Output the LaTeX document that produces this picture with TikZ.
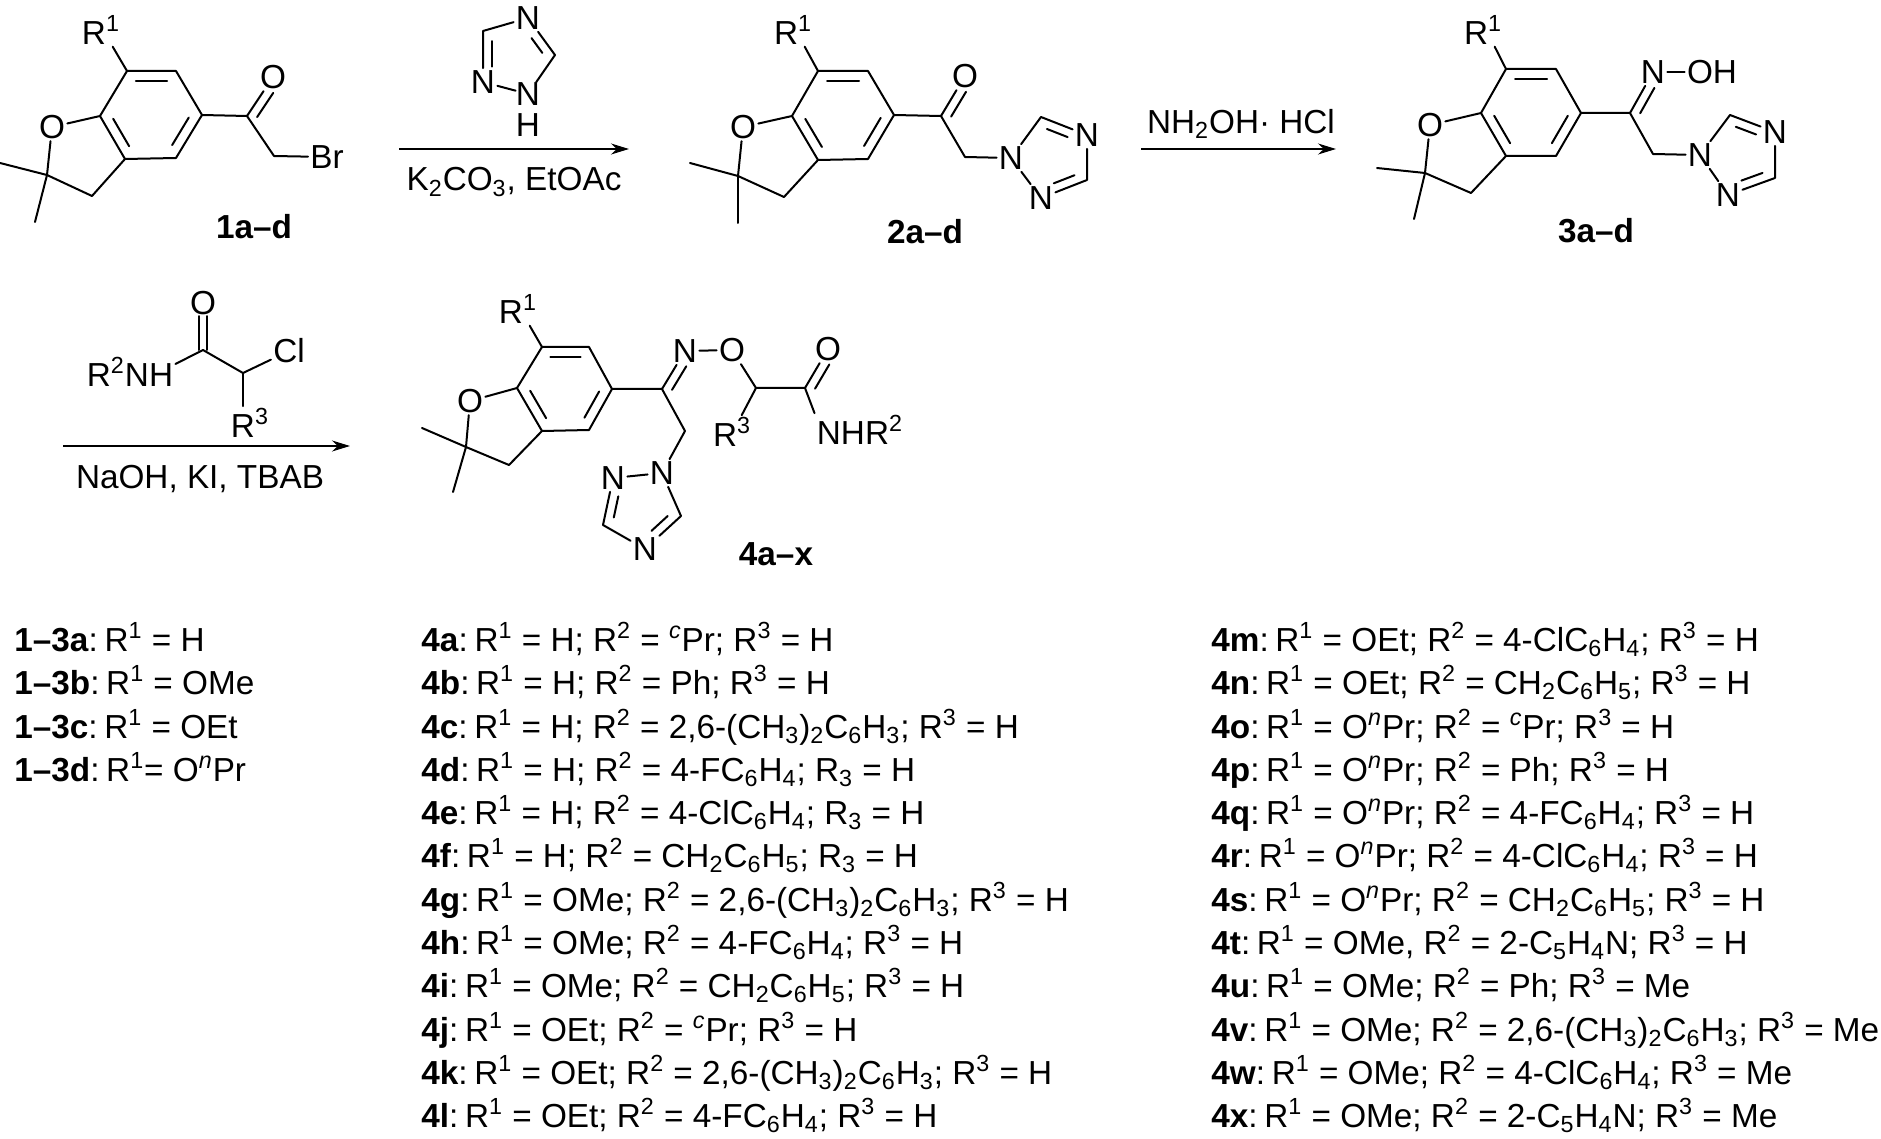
\documentclass[tikz,border=0pt]{standalone}
\usepackage{fontspec}
\setmainfont{Liberation Sans}
\usetikzlibrary{arrows.meta,calc}
\newcommand{\supr}[1]{\textsuperscript{#1}}
\newcommand{\subs}[1]{\textsubscript{#1}}
\newcommand{\lab}[1]{\textbf{#1}:\hspace{0.2em}}
\newcommand{\inbond}[5]{\draw[bond] ($(#1)!#4!(#2)!#3!90:(#2)$) -- ($(#2)!#5!(#1)!#3!-90:(#1)$);}
\begin{document}
\begin{tikzpicture}[
  x=0.5pt, y=-0.5pt,
  font=\fontsize{16.65}{19}\selectfont,
  bond/.style={line width=1pt, line cap=round, line join=round},
  atom/.style={inner sep=1pt},
  reaction/.style={-{Stealth[length=9pt,width=5.5pt]}, line width=0.7pt},
  compound/.style={font=\fontsize{16.65}{19}\selectfont\bfseries},
  item/.style={anchor=base west, inner sep=0pt}
]
\useasboundingbox (0,0) rectangle (1881,1139);

\coordinate (a1) at (127,71);
\coordinate (b1) at (176,71);
\coordinate (c1) at (202,115);
\coordinate (d1) at (176,158);
\coordinate (e1) at (125,159);
\coordinate (f1) at (100,116);
\coordinate (g1) at (47,175);
\coordinate (h1) at (92,196);
\coordinate (m1) at (0,163);
\coordinate (n1) at (35,222);
\coordinate (co1) at (247,116);
\coordinate (ch1) at (274,156);
\node[atom] (r1) at (101,30) {R\supr{1}};
\node[atom] (o1) at (52,127) {O};
\node[atom] (oo1) at (273,77) {O};
\node[atom] (br1) at (327,157) {Br};
\draw[bond] (a1) -- (r1.-55);
\draw[bond] (a1) -- (b1) -- (c1) -- (d1) -- (e1) -- (f1) -- (a1);
\draw[bond] (f1) -- (o1);
\draw[bond] (o1) -- (g1);
\draw[bond] (g1) -- (h1) -- (e1);
\draw[bond] (g1) -- (m1);
\draw[bond] (g1) -- (n1);
\draw[bond] (c1) -- (co1) -- (ch1) -- (br1);
\draw[bond] (co1) -- (oo1);
\inbond{a1}{b1}{-5pt}{.18}{.18}
\inbond{c1}{d1}{-5pt}{.18}{.18}
\inbond{e1}{f1}{-5pt}{.18}{.18}
\inbond{co1}{oo1}{-4.5pt}{.1}{.28}
\node[compound] (lab1) at (254,227) {1a–d};

\node[atom] (tn1) at (528,18) {N};
\coordinate (tc1) at (483,31);
\node[atom] (tn2) at (483,82) {N};
\node[atom,inner sep=0pt] (tn3) at (528,94) {N};
\node[atom,inner sep=0pt] (th) at (528,125) {H};
\coordinate (tc2) at (555,55);
\draw[bond] (tn1) -- (tc1) -- (tn2);
\draw[bond] (tn2) -- (tn3);
\draw[bond] (tn3) -- (tc2) -- (tn1);
\inbond{tc1}{tn2}{4.5pt}{.2}{.3}
\inbond{tc2}{tn1}{4.5pt}{.2}{.4}
\coordinate (s1) at (399,149);
\coordinate (t1) at (629,149);
\draw[reaction] (s1) -- (t1);
\node (cond1) at (514,182) {K\subs{2}CO\subs{3}, EtOAc};

\coordinate (a2) at (818,71);
\coordinate (b2) at (868,71);
\coordinate (c2) at (894,115);
\coordinate (d2) at (868,159);
\coordinate (e2) at (818,160);
\coordinate (f2) at (792,116);
\coordinate (g2) at (738,176);
\coordinate (h2) at (784,197);
\coordinate (m2) at (690,163);
\coordinate (n2) at (738,223);
\coordinate (co2) at (941,116);
\coordinate (ch2) at (965,157);
\coordinate (p2) at (1041,117);
\coordinate (q2) at (1087,180);
\node[atom] (r2) at (793,30) {R\supr{1}};
\node[atom] (o2) at (743,127) {O};
\node[atom] (oo2) at (965,76) {O};
\node[atom] (na2) at (1011,158) {N};
\node[atom] (nb2) at (1087,135) {N};
\node[atom] (nc2) at (1041,198) {N};
\draw[bond] (a2) -- (r2.-55);
\draw[bond] (a2) -- (b2) -- (c2) -- (d2) -- (e2) -- (f2) -- (a2);
\draw[bond] (f2) -- (o2);
\draw[bond] (o2) -- (g2);
\draw[bond] (g2) -- (h2) -- (e2);
\draw[bond] (g2) -- (m2);
\draw[bond] (g2) -- (n2);
\draw[bond] (c2) -- (co2) -- (ch2) -- (na2);
\draw[bond] (co2) -- (oo2);
\draw[bond] (na2) -- (p2) -- (nb2) -- (q2) -- (nc2) -- (na2);
\inbond{a2}{b2}{-5pt}{.18}{.18}
\inbond{c2}{d2}{-5pt}{.18}{.18}
\inbond{e2}{f2}{-5pt}{.18}{.18}
\inbond{co2}{oo2}{-4.5pt}{.1}{.28}
\inbond{p2}{nb2}{-4.5pt}{.2}{.35}
\inbond{q2}{nc2}{-4.5pt}{.2}{.35}
\node[compound] (lab2) at (925,232) {2a–d};

\coordinate (s2) at (1141,149);
\coordinate (t2) at (1336,149);
\draw[reaction] (s2) -- (t2);
\node (cond2) at (1241,124) {NH\subs{2}OH· HCl};

\coordinate (a3) at (1506,69);
\coordinate (b3) at (1556,69);
\coordinate (c3) at (1581,113);
\coordinate (d3) at (1556,156);
\coordinate (e3) at (1506,156);
\coordinate (f3) at (1481,113);
\coordinate (g3) at (1425,173);
\coordinate (h3) at (1471,193);
\coordinate (m3) at (1377,168);
\coordinate (n3) at (1414,219);
\coordinate (cn3) at (1630,113);
\coordinate (ch3) at (1653,154);
\coordinate (p3) at (1730,115);
\coordinate (q3) at (1775,178);
\node[atom] (r3) at (1483,30) {R\supr{1}};
\node[atom] (o3) at (1430,125) {O};
\node[atom] (no3) at (1653,72) {N};
\node[atom] (oh3) at (1712,72) {OH};
\node[atom] (na3) at (1700,155) {N};
\node[atom] (nb3) at (1775,132) {N};
\node[atom] (nc3) at (1728,195) {N};
\draw[bond] (a3) -- (r3.-55);
\draw[bond] (a3) -- (b3) -- (c3) -- (d3) -- (e3) -- (f3) -- (a3);
\draw[bond] (f3) -- (o3);
\draw[bond] (o3) -- (g3);
\draw[bond] (g3) -- (h3) -- (e3);
\draw[bond] (g3) -- (m3);
\draw[bond] (g3) -- (n3);
\draw[bond] (c3) -- (cn3) -- (ch3) -- (na3);
\draw[bond] (cn3) -- (no3);
\draw[bond] (no3) -- (oh3);
\draw[bond] (na3) -- (p3) -- (nb3) -- (q3) -- (nc3) -- (na3);
\inbond{a3}{b3}{-5pt}{.18}{.18}
\inbond{c3}{d3}{-5pt}{.18}{.18}
\inbond{e3}{f3}{-5pt}{.18}{.18}
\inbond{cn3}{no3}{-4.5pt}{.1}{.28}
\inbond{p3}{nb3}{-4.5pt}{.2}{.35}
\inbond{q3}{nc3}{-4.5pt}{.2}{.35}
\node[compound] (lab3) at (1596,231) {3a–d};

\coordinate (cor) at (203,350);
\coordinate (chr) at (243,373);
\node[atom] (oor) at (203,303) {O};
\node[atom] (nhr) at (130,372) {R\supr{2}NH};
\node[atom] (clr) at (289,351) {Cl};
\node[atom] (rr) at (250,423) {R\supr{3}};
\draw[bond] (cor) -- (nhr.10);
\draw[bond] (cor) -- (chr) -- (clr);
\draw[bond] (chr) -- (rr.north -| chr);
\inbond{cor}{oor}{2.2pt}{0}{.28}
\inbond{cor}{oor}{-2.2pt}{0}{.28}
\coordinate (s3) at (63,446);
\coordinate (t3) at (350,446);
\draw[reaction] (s3) -- (t3);
\node (cond3) at (200,479) {NaOH, KI, TBAB};

\coordinate (a4) at (542,347);
\coordinate (b4) at (589,347);
\coordinate (c4) at (612,389);
\coordinate (d4) at (589,430);
\coordinate (e4) at (542,431);
\coordinate (f4) at (517,388);
\coordinate (g4) at (466,447);
\coordinate (h4) at (509,465);
\coordinate (m4) at (422,428);
\coordinate (n4) at (453,492);
\coordinate (cn4) at (662,389);
\coordinate (ch4) at (685,431);
\coordinate (cr4) at (756,388);
\coordinate (co4) at (805,388);
\coordinate (p4) at (603,525);
\coordinate (q4) at (681,516);
\node[atom] (r4) at (518,309) {R\supr{1}};
\node[atom] (o4) at (470,401) {O};
\node[atom] (no4) at (685,351) {N};
\node[atom] (ox4) at (732,350) {O};
\node[atom] (oo4) at (828,349) {O};
\node[atom] (nh4) at (860,430) {NHR\supr{2}};
\node[atom] (rr4) at (732,432) {R\supr{3}};
\node[atom] (na4) at (662,473) {N};
\node[atom] (nb4) at (613,478) {N};
\node[atom] (nc4) at (645,549) {N};
\draw[bond] (a4) -- (r4.-55);
\draw[bond] (a4) -- (b4) -- (c4) -- (d4) -- (e4) -- (f4) -- (a4);
\draw[bond] (f4) -- (o4);
\draw[bond] (o4) -- (g4);
\draw[bond] (g4) -- (h4) -- (e4);
\draw[bond] (g4) -- (m4);
\draw[bond] (g4) -- (n4);
\draw[bond] (c4) -- (cn4) -- (ch4) -- (na4);
\draw[bond] (cn4) -- (no4);
\draw[bond] (no4) -- (ox4);
\draw[bond] (ox4) -- (cr4) -- (co4) -- (oo4);
\draw[bond] (co4) -- (nh4.north west);
\draw[bond] (cr4) -- (rr4.60);
\draw[bond] (na4) -- (nb4) -- (p4) -- (nc4) -- (q4) -- (na4);
\inbond{a4}{b4}{-5pt}{.18}{.18}
\inbond{c4}{d4}{-5pt}{.18}{.18}
\inbond{e4}{f4}{-5pt}{.18}{.18}
\inbond{cn4}{no4}{-4.5pt}{.1}{.28}
\inbond{co4}{oo4}{-4.5pt}{.1}{.28}
\inbond{nb4}{p4}{4.5pt}{.35}{.2}
\inbond{nc4}{q4}{4.5pt}{.35}{.2}
\node[compound] (lab4) at (776,554) {4a–x};

\node[item] (la) at (14,651) {\lab{1–3a}R\supr{1} = H};
\node[item] (lb) at (14,694) {\lab{1–3b}R\supr{1} = OMe};
\node[item] (lc) at (14,738) {\lab{1–3c}R\supr{1} = OEt};
\node[item] (ld) at (14,781) {\lab{1–3d}R\supr{1}= O\supr{\textit{n}}Pr};

\node[item] (ia) at (421,651) {\lab{4a}R\supr{1} = H; R\supr{2} = \supr{\textit{c}}Pr; R\supr{3} = H};
\node[item] (ib) at (421,694) {\lab{4b}R\supr{1} = H; R\supr{2} = Ph; R\supr{3} = H};
\node[item] (ic) at (421,738) {\lab{4c}R\supr{1} = H; R\supr{2} = 2,6-(CH\subs{3})\subs{2}C\subs{6}H\subs{3}; R\supr{3} = H};
\node[item] (id) at (421,781) {\lab{4d}R\supr{1} = H; R\supr{2} = 4-FC\subs{6}H\subs{4}; R\subs{3} = H};
\node[item] (ie) at (421,824) {\lab{4e}R\supr{1} = H; R\supr{2} = 4-ClC\subs{6}H\subs{4}; R\subs{3} = H};
\node[item] (if) at (421,867) {\lab{4f}R\supr{1} = H; R\supr{2} = CH\subs{2}C\subs{6}H\subs{5}; R\subs{3} = H};
\node[item] (ig) at (421,911) {\lab{4g}R\supr{1} = OMe; R\supr{2} = 2,6-(CH\subs{3})\subs{2}C\subs{6}H\subs{3}; R\supr{3} = H};
\node[item] (ih) at (421,954) {\lab{4h}R\supr{1} = OMe; R\supr{2} = 4-FC\subs{6}H\subs{4}; R\supr{3} = H};
\node[item] (ii) at (421,997) {\lab{4i}R\supr{1} = OMe; R\supr{2} = CH\subs{2}C\subs{6}H\subs{5}; R\supr{3} = H};
\node[item] (ij) at (421,1041) {\lab{4j}R\supr{1} = OEt; R\supr{2} = \supr{\textit{c}}Pr; R\supr{3} = H};
\node[item] (ik) at (421,1084) {\lab{4k}R\supr{1} = OEt; R\supr{2} = 2,6-(CH\subs{3})\subs{2}C\subs{6}H\subs{3}; R\supr{3} = H};
\node[item] (il) at (421,1127) {\lab{4l}R\supr{1} = OEt; R\supr{2} = 4-FC\subs{6}H\subs{4}; R\supr{3} = H};

\node[item] (im) at (1211,651) {\lab{4m}R\supr{1} = OEt; R\supr{2} = 4-ClC\subs{6}H\subs{4}; R\supr{3} = H};
\node[item] (in) at (1211,694) {\lab{4n}R\supr{1} = OEt; R\supr{2} = CH\subs{2}C\subs{6}H\subs{5}; R\supr{3} = H};
\node[item] (io) at (1211,738) {\lab{4o}R\supr{1} = O\supr{\textit{n}}Pr; R\supr{2} = \supr{\textit{c}}Pr; R\supr{3} = H};
\node[item] (ip) at (1211,781) {\lab{4p}R\supr{1} = O\supr{\textit{n}}Pr; R\supr{2} = Ph; R\supr{3} = H};
\node[item] (iq) at (1211,824) {\lab{4q}R\supr{1} = O\supr{\textit{n}}Pr; R\supr{2} = 4-FC\subs{6}H\subs{4}; R\supr{3} = H};
\node[item] (ir) at (1211,867) {\lab{4r}R\supr{1} = O\supr{\textit{n}}Pr; R\supr{2} = 4-ClC\subs{6}H\subs{4}; R\supr{3} = H};
\node[item] (is) at (1211,911) {\lab{4s}R\supr{1} = O\supr{\textit{n}}Pr; R\supr{2} = CH\subs{2}C\subs{6}H\subs{5}; R\supr{3} = H};
\node[item] (it) at (1211,954) {\lab{4t}R\supr{1} = OMe, R\supr{2} = 2-C\subs{5}H\subs{4}N; R\supr{3} = H};
\node[item] (iu) at (1211,997) {\lab{4u}R\supr{1} = OMe; R\supr{2} = Ph; R\supr{3} = Me};
\node[item] (iv) at (1211,1041) {\lab{4v}R\supr{1} = OMe; R\supr{2} = 2,6-(CH\subs{3})\subs{2}C\subs{6}H\subs{3}; R\supr{3} = Me};
\node[item] (iw) at (1211,1084) {\lab{4w}R\supr{1} = OMe; R\supr{2} = 4-ClC\subs{6}H\subs{4}; R\supr{3} = Me};
\node[item] (ix) at (1211,1127) {\lab{4x}R\supr{1} = OMe; R\supr{2} = 2-C\subs{5}H\subs{4}N; R\supr{3} = Me};
\end{tikzpicture}
\end{document}
